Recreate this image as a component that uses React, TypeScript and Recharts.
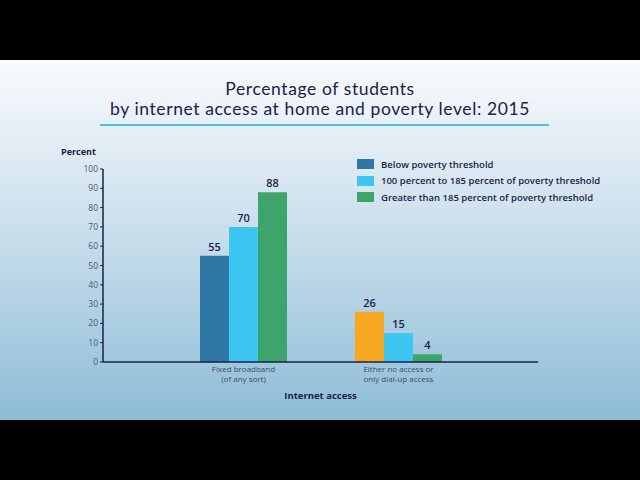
import React from "react";
import { BarChart, Bar, XAxis, YAxis, Cell, LabelList } from "recharts";

const categories = ["Fixed broadband\n(of any sort)", "Either no access or\nonly dial-up access"];
const belowValues = [55, 26];
const middleValues = [70, 15];
const aboveValues = [88, 4];
const seriesNames = [
  "Below poverty threshold",
  "100 percent to 185 percent of poverty threshold",
  "Greater than 185 percent of poverty threshold",
];
const yTicks = [0, 10, 20, 30, 40, 50, 60, 70, 80, 90, 100];

const COLORS = ["#2E77A6", "#3CC6F1", "#3DA56B"];
// the first bar of the second group is drawn orange in the original
const belowCellColors = ["#2E77A6", "#F7A823"];

const FONT = "'Open Sans', sans-serif";
const NAVY = "#1b2148";

const data = categories.map((c, i) => ({
  category: c,
  below: belowValues[i],
  middle: middleValues[i],
  above: aboveValues[i],
}));

const CategoryTick = (props: any) => {
  const { x, payload } = props;
  const lines = String(payload.value).split("\n");
  return (
    <text x={x} y={372} textAnchor="middle" fill="#3f4b69" fontSize={8} fontFamily={FONT}>
      {lines.map((l, i) => (
        <tspan key={i} x={x} dy={i === 0 ? 0 : 9.5}>{l}</tspan>
      ))}
    </text>
  );
};

const LegendBox = () => (
  <div style={{ position: "absolute", top: 156, left: 357, fontFamily: FONT }}>
    {seriesNames.map((name, i) => (
      <div key={name} style={{ display: "flex", alignItems: "center", height: 16.5 }}>
        <div style={{ width: 17, height: 10, background: COLORS[i], marginRight: 7 }} />
        <span style={{ fontSize: 9.5, fontWeight: 600, color: NAVY, whiteSpace: "nowrap" }}>{name}</span>
      </div>
    ))}
  </div>
);

export default function App() {
  return (
    <div style={{ position: "fixed", top: 0, left: 0, width: 640, height: 480, background: "#000", overflow: "hidden" }}>
      <div
        style={{
          position: "absolute",
          top: 60,
          left: 0,
          width: 640,
          height: 360,
          background: "linear-gradient(180deg, #f8fafd 0%, #e6eff6 20%, #bcd7e7 60%, #8dbcd6 100%)",
        }}
      />
      <div
        style={{
          position: "absolute",
          top: 79,
          left: 0,
          width: 640,
          textAlign: "center",
          fontFamily: "Lato, sans-serif",
          fontSize: 17.5,
          letterSpacing: 0.6,
          lineHeight: "20px",
          color: NAVY,
        }}
      >
        <div>Percentage of students</div>
        <div>by internet access at home and poverty level: 2015</div>
      </div>
      <div style={{ position: "absolute", top: 124, left: 100, width: 449, height: 1.5, background: "#4cc0e8" }} />
      <div style={{ position: "absolute", top: 0, left: 0 }}>
        <BarChart
          width={640}
          height={480}
          data={data}
          barGap={0}
          margin={{ top: 169, right: 102, bottom: 88, left: 0 }}
        >
          <YAxis
            width={103}
            domain={[0, 100]}
            ticks={yTicks}
            interval={0}
            tick={{ fill: "#4a5572", fontSize: 8.5, fontFamily: FONT }}
            tickSize={3}
            tickMargin={2}
            axisLine={{ stroke: NAVY, strokeWidth: 1.5 }}
            tickLine={{ stroke: NAVY }}
            label={({ viewBox }: any) => (
              <text x={61} y={viewBox.y - 14} fill={NAVY} fontSize={9} fontWeight={700} fontFamily={FONT}>
                Percent
              </text>
            )}
          />
          <XAxis
            dataKey="category"
            height={30}
            padding={{ left: 63, right: 62 }}
            tick={<CategoryTick />}
            tickLine={false}
            axisLine={{ stroke: NAVY, strokeWidth: 1.5 }}
            interval={0}
            label={({ viewBox }: any) => (
              <text
                x={viewBox.x + viewBox.width / 2}
                y={399}
                textAnchor="middle"
                fill={NAVY}
                fontSize={9.5}
                fontWeight={700}
                fontFamily={FONT}
              >
                Internet access
              </text>
            )}
          />
          <Bar dataKey="below" name={seriesNames[0]} fill={COLORS[0]} barSize={29} isAnimationActive={false}>
            {data.map((_, i) => (
              <Cell key={i} fill={belowCellColors[i]} />
            ))}
            <LabelList dataKey="below" position="top" offset={5} fill={NAVY} fontSize={11} fontWeight={600} fontFamily={FONT} />
          </Bar>
          <Bar dataKey="middle" name={seriesNames[1]} fill={COLORS[1]} barSize={29} isAnimationActive={false}>
            <LabelList dataKey="middle" position="top" offset={5} fill={NAVY} fontSize={11} fontWeight={600} fontFamily={FONT} />
          </Bar>
          <Bar dataKey="above" name={seriesNames[2]} fill={COLORS[2]} barSize={29} isAnimationActive={false}>
            <LabelList dataKey="above" position="top" offset={5} fill={NAVY} fontSize={11} fontWeight={600} fontFamily={FONT} />
          </Bar>
        </BarChart>
      </div>
      <LegendBox />
    </div>
  );
}
